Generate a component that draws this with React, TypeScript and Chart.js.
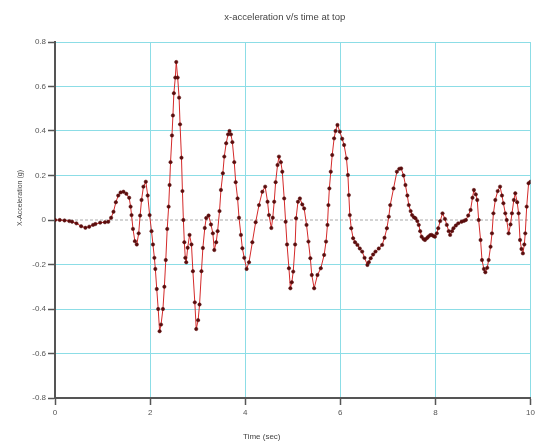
import React, { useEffect, useRef } from 'react';
import { Chart, registerables } from 'chart.js';

Chart.register(...registerables);

const TITLE = 'x-acceleration v/s time at top';
const X_TITLE = 'Time (sec)';
const Y_TITLE = 'X-Acceleration (g)';

const timeSec = [
  0.00, 0.10, 0.20, 0.30, 0.36, 0.45, 0.55, 0.64, 0.72, 0.80, 0.85, 0.95, 1.05, 1.12, 1.18, 1.23, 1.28, 1.33, 1.38, 1.44,
  1.50, 1.56, 1.59, 1.61, 1.64, 1.68, 1.72, 1.76, 1.79, 1.82, 1.86, 1.91, 1.95, 1.99, 2.03, 2.06, 2.09, 2.11, 2.14, 2.17,
  2.20, 2.23, 2.27, 2.30, 2.33, 2.36, 2.39, 2.41, 2.43, 2.46, 2.48, 2.50, 2.53, 2.55, 2.58, 2.61, 2.63, 2.66, 2.68, 2.70,
  2.72, 2.74, 2.76, 2.79, 2.83, 2.87, 2.90, 2.94, 2.97, 3.01, 3.04, 3.08, 3.11, 3.15, 3.18, 3.23, 3.28, 3.32, 3.35, 3.39,
  3.42, 3.46, 3.49, 3.53, 3.56, 3.60, 3.64, 3.67, 3.70, 3.73, 3.77, 3.80, 3.84, 3.87, 3.91, 3.94, 3.98, 4.03, 4.08, 4.15,
  4.22, 4.29, 4.36, 4.42, 4.47, 4.50, 4.55, 4.58, 4.61, 4.64, 4.68, 4.71, 4.75, 4.78, 4.82, 4.85, 4.88, 4.92, 4.95, 4.98,
  5.01, 5.05, 5.07, 5.11, 5.15, 5.20, 5.24, 5.29, 5.33, 5.37, 5.40, 5.45, 5.52, 5.59, 5.66, 5.70, 5.73, 5.75, 5.77, 5.80,
  5.83, 5.87, 5.90, 5.94, 5.99, 6.04, 6.08, 6.13, 6.16, 6.18, 6.20, 6.23, 6.27, 6.31, 6.36, 6.41, 6.46, 6.51, 6.57, 6.60,
  6.64, 6.69, 6.74, 6.81, 6.88, 6.93, 6.98, 7.02, 7.05, 7.12, 7.19, 7.24, 7.28, 7.33, 7.37, 7.41, 7.44, 7.48, 7.51, 7.55,
  7.58, 7.62, 7.65, 7.68, 7.71, 7.75, 7.78, 7.82, 7.85, 7.89, 7.92, 7.96, 7.99, 8.03, 8.06, 8.10, 8.15, 8.20, 8.24, 8.28,
  8.31, 8.35, 8.38, 8.43, 8.48, 8.55, 8.60, 8.64, 8.69, 8.74, 8.78, 8.81, 8.85, 8.88, 8.91, 8.95, 8.98, 9.02, 9.05, 9.09,
  9.12, 9.16, 9.19, 9.22, 9.26, 9.31, 9.36, 9.40, 9.43, 9.47, 9.50, 9.54, 9.58, 9.61, 9.65, 9.68, 9.72, 9.75, 9.78, 9.81,
  9.84, 9.87, 9.89, 9.92, 9.96, 10.00,
];

const accelG = [
  0.000, 0.000, -0.002, -0.005, -0.008, -0.015, -0.028, -0.035, -0.030, -0.022, -0.018, -0.012, -0.010, -0.008, 0.010, 0.037, 0.080, 0.110, 0.124, 0.127,
  0.118, 0.100, 0.060, 0.022, -0.040, -0.095, -0.110, -0.060, 0.020, 0.090, 0.150, 0.172, 0.110, 0.022, -0.050, -0.110, -0.170, -0.220, -0.310, -0.400,
  -0.500, -0.470, -0.400, -0.300, -0.180, -0.040, 0.060, 0.157, 0.260, 0.380, 0.470, 0.570, 0.640, 0.710, 0.640, 0.550, 0.430, 0.280, 0.130, 0.000,
  -0.100, -0.170, -0.190, -0.125, -0.067, -0.110, -0.230, -0.370, -0.490, -0.450, -0.380, -0.230, -0.126, -0.036, 0.009, 0.020, -0.020, -0.060, -0.135, -0.100,
  -0.050, 0.040, 0.135, 0.210, 0.285, 0.345, 0.385, 0.400, 0.385, 0.350, 0.260, 0.170, 0.097, 0.010, -0.067, -0.127, -0.170, -0.220, -0.190, -0.100,
  -0.010, 0.067, 0.127, 0.150, 0.082, 0.022, -0.036, 0.010, 0.082, 0.170, 0.247, 0.285, 0.260, 0.217, 0.097, -0.008, -0.110, -0.217, -0.307, -0.280,
  -0.232, -0.110, 0.008, 0.082, 0.097, 0.070, 0.052, -0.022, -0.097, -0.172, -0.247, -0.307, -0.247, -0.217, -0.157, -0.097, -0.022, 0.067, 0.142, 0.217,
  0.292, 0.367, 0.400, 0.427, 0.397, 0.365, 0.337, 0.277, 0.202, 0.112, 0.022, -0.037, -0.082, -0.100, -0.112, -0.128, -0.142, -0.170, -0.202, -0.190,
  -0.172, -0.155, -0.142, -0.128, -0.112, -0.080, -0.037, 0.015, 0.067, 0.142, 0.217, 0.230, 0.232, 0.200, 0.157, 0.110, 0.067, 0.040, 0.022, 0.012,
  0.008, -0.005, -0.022, -0.050, -0.075, -0.085, -0.090, -0.082, -0.075, -0.068, -0.067, -0.072, -0.075, -0.060, -0.037, -0.005, 0.030, 0.005, -0.022, -0.050,
  -0.067, -0.050, -0.037, -0.025, -0.015, -0.008, -0.004, 0.000, 0.020, 0.045, 0.100, 0.135, 0.115, 0.090, 0.000, -0.090, -0.180, -0.220, -0.235, -0.215,
  -0.180, -0.120, -0.060, 0.030, 0.090, 0.130, 0.150, 0.110, 0.075, 0.030, 0.000, -0.060, -0.020, 0.030, 0.090, 0.120, 0.080, 0.030, -0.090, -0.130,
  -0.150, -0.110, -0.060, 0.060, 0.165, 0.172,
];

const xTickValues = [0, 2, 4, 6, 8, 10];
const xTickLabels = ['0', '2', '4', '6', '8', '10'];
const yTickValues = [-0.8, -0.6, -0.4, -0.2, 0, 0.2, 0.4, 0.6, 0.8];
const yTickLabels = ['-0.8', '-0.6', '-0.4', '-0.2', '0', '0.2', '0.4', '0.6', '0.8'];
const zeroLineX = [0, 10];
const zeroLineY = [0, 0];

const FONT = '"Liberation Sans", Arial, sans-serif';
const GRID = '#8cdde6';
const AXIS = '#555555';

const textPlugin = {
  id: 'textLabels',
  afterDraw(chart: any) {
    const { ctx, chartArea } = chart;
    const cx = (chartArea.left + chartArea.right) / 2;
    const cy = (chartArea.top + chartArea.bottom) / 2;
    ctx.save();
    ctx.fillStyle = '#444444';
    ctx.textAlign = 'center';
    ctx.textBaseline = 'middle';
    ctx.font = `9.5px ${FONT}`;
    ctx.fillText(TITLE, cx - 8, 17);
    ctx.font = `8px ${FONT}`;
    ctx.fillText(X_TITLE, cx - 31, chart.height - 6);
    ctx.translate(20, cy - 22);
    ctx.rotate(-Math.PI / 2);
    ctx.font = `7px ${FONT}`;
    ctx.fillText(Y_TITLE, 0, 0);
    ctx.restore();
  },
};

export default function App() {
  const ref = useRef<HTMLCanvasElement | null>(null);

  useEffect(() => {
    if (!ref.current) return;
    const chart = new Chart(ref.current, {
      type: 'line',
      data: {
        datasets: [
          {
            data: timeSec.map((t, i) => ({ x: t, y: accelG[i] })),
            borderColor: '#d42a2a',
            borderWidth: 1,
            pointRadius: 1.7,
            pointBackgroundColor: '#5a0d0d',
            pointBorderColor: '#5a0d0d',
            pointBorderWidth: 0.5,
            tension: 0,
            order: 0,
          },
          {
            data: zeroLineX.map((t, i) => ({ x: t, y: zeroLineY[i] })),
            borderColor: '#a8a8a8',
            borderWidth: 1,
            borderDash: [3, 2],
            pointRadius: 0,
            order: 1,
          },
        ],
      },
      options: {
        responsive: false,
        animation: false,
        devicePixelRatio: 1,
        layout: { padding: { top: 42, right: 0, left: 0, bottom: 0 } },
        plugins: {
          legend: { display: false },
          tooltip: { enabled: false },
          title: { display: false },
        },
        scales: {
          x: {
            type: 'linear',
            min: 0,
            max: 10,
            afterBuildTicks: (s: any) => {
              s.ticks = xTickValues.map((v) => ({ value: v }));
            },
            afterFit: (s: any) => {
              s.height = 45;
              s.paddingRight = 3;
            },
            ticks: {
              callback: (_v: any, i: number) => xTickLabels[i],
              font: { size: 8, family: FONT },
              color: '#555555',
              padding: 3,
              maxRotation: 0,
            },
            grid: {
              color: GRID,
              lineWidth: 1,
              tickColor: AXIS,
              tickLength: 7,
              tickWidth: 1.5,
            },
            border: { color: AXIS, width: 2 },
          },
          y: {
            type: 'linear',
            min: -0.8,
            max: 0.8,
            afterBuildTicks: (s: any) => {
              s.ticks = yTickValues.map((v) => ({ value: v }));
            },
            afterFit: (s: any) => {
              s.width = 55;
            },
            ticks: {
              callback: (_v: any, i: number) => yTickLabels[i],
              font: { size: 8, family: FONT },
              color: '#555555',
              padding: 2,
            },
            grid: {
              color: (c: any) => (c.tick && c.tick.value === 0 ? 'rgba(0,0,0,0)' : GRID),
              lineWidth: 1,
              tickColor: AXIS,
              tickLength: 7,
              tickWidth: 1.5,
            },
            border: { color: AXIS, width: 2 },
          },
        },
      },
      plugins: [textPlugin],
    });
    return () => chart.destroy();
  }, []);

  return (
    <div style={{ position: 'absolute', left: 0, top: 0, width: 535, height: 443, background: '#ffffff' }}>
      <canvas ref={ref} width={535} height={443} />
    </div>
  );
}
